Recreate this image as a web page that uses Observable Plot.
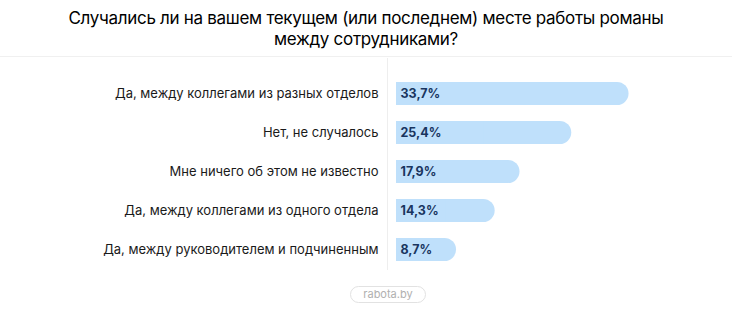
<!DOCTYPE html>
<html>
<head>
<meta charset="utf-8">
<script src="https://cdn.jsdelivr.net/npm/d3@7"></script>
<script src="https://cdn.jsdelivr.net/npm/@observablehq/plot@0.6"></script>
<style>
  html, body { margin: 0; padding: 0; background: #fff; }
  #wrap { position: relative; width: 732px; height: 314px; overflow: hidden; font-family: Inter, "Noto Sans", sans-serif; }
  #title { height: 57px; border-bottom: 1px solid #f0f0f0; box-sizing: border-box; padding-top: 8px;
           text-align: center; font-size: 17px; font-weight: 400; line-height: 21px; color: #000; letter-spacing: -0.3px; }
  #chart { position: absolute; left: 0; top: 58px; }
  #caption { position: absolute; left: 350px; top: 286px; width: 76px; height: 17px; box-sizing: border-box;
             border: 1px solid #e2e2e2; border-radius: 9px; text-align: center; font-size: 11px; line-height: 15px; color: #b0b0b0; }
</style>
</head>
<body>
<div id="wrap">
  <div id="title">Случались ли на вашем текущем (или последнем) месте работы романы<br>между сотрудниками?</div>
  <div id="chart"></div>
  <div id="caption">rabota.by</div>
</div>
<script>
const categories = [
  "Да, между коллегами из разных отделов",
  "Нет, не случалось",
  "Мне ничего об этом не известно",
  "Да, между коллегами из одного отдела",
  "Да, между руководителем и подчиненным"
];
const values = [33.7, 25.4, 17.9, 14.3, 8.7];

const data = categories.map((c, i) => ({category: c, value: values[i]}));
const fmt = v => v.toFixed(1).replace(".", ",") + "%";
const barColor = "#bfe0fb";

const chart = Plot.plot({
  width: 732,
  height: 216,
  marginLeft: 396,
  marginRight: 60,
  marginTop: 11,
  marginBottom: 0,
  style: {fontFamily: "Inter, 'Noto Sans', sans-serif", fontSize: "13px", color: "#1a1a1a", background: "transparent"},
  x: {domain: [0, 40], axis: null},
  y: {domain: categories, padding: 0.418, paddingOuter: 0.3, label: null},
  marks: [
    Plot.ruleX([0], {stroke: "#eeeeee", dx: -9, insetTop: -11, insetBottom: 4}),
    Plot.barX(data, {y: "category", x: "value", fill: barColor, rx: 11.5}),
    Plot.barX(data, {y: "category", x1: 0, x2: d => d.value / 2, fill: barColor}),
    Plot.text(data, {y: "category", x: 0, dx: 4, text: d => fmt(d.value), textAnchor: "start",
      fill: "#19355f", fontWeight: 700, fontSize: 12.5}),
    Plot.axisY({tickSize: 0, tickPadding: 18, fontSize: 13, fill: "#1a1a1a", label: null})
  ]
});
document.getElementById("chart").appendChild(chart);
</script>
</body>
</html>
